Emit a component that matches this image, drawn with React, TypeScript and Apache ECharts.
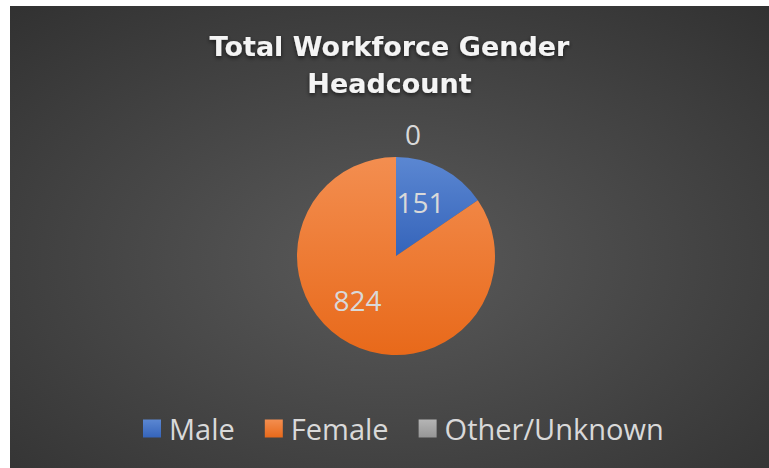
import React, { useEffect, useRef } from "react";
import * as echarts from "echarts";

const titleLines = ["Total Workforce Gender", "Headcount"];
const categories = ["Male", "Female", "Other/Unknown"];
const values = [151, 824, 0];

const palette = [
  ["#5b87d2", "#3564ba"],
  ["#f38e50", "#e8691a"],
  ["#b5b5b5", "#969696"],
];
const labelOffsets = [
  [0, -8],
  [-14, -2],
  [17, -70],
];

export default function App() {
  const ref = useRef<HTMLDivElement>(null);
  useEffect(() => {
    if (!ref.current) return;
    const chart = echarts.init(ref.current, undefined, { renderer: "svg" });
    const font = "'Open Sans', 'Noto Sans', sans-serif";
    chart.setOption({
      animation: false,
      backgroundColor: new echarts.graphic.RadialGradient(0.5, 0.55, 0.95, [
        { offset: 0, color: "#5a5a5a" },
        { offset: 1, color: "#262626" },
      ]),
      title: {
        text: titleLines.join("\n"),
        left: "center",
        top: 17,
        textStyle: {
          fontFamily: "'DejaVu Sans', sans-serif",
          fontWeight: "bold",
          fontSize: 27,
          lineHeight: 37,
          color: "#f4f4f4",
          textShadowColor: "rgba(0,0,0,0.6)",
          textShadowBlur: 4,
          textShadowOffsetY: 2,
        },
      },
      legend: {
        data: categories,
        bottom: 20,
        left: 128,
        icon: "rect",
        itemWidth: 18,
        itemHeight: 18,
        itemGap: 30,
        textStyle: {
          fontFamily: font,
          fontSize: 29,
          color: "#d9d9d9",
          padding: [0, 0, 0, 3],
        },
      },
      series: [
        {
          type: "pie",
          center: [386, 250],
          radius: 99,
          startAngle: 90,
          clockwise: true,
          avoidLabelOverlap: false,
          label: {
            show: true,
            position: "inside",
            formatter: "{c}",
            fontFamily: font,
            fontSize: 28,
            color: "#d9d9d9",
          },
          labelLine: { show: false },
          emphasis: { disabled: true },
          data: categories.map((name, i) => ({
            name,
            value: values[i],
            itemStyle: {
              color: new echarts.graphic.LinearGradient(0, 0, 0, 1, [
                { offset: 0, color: palette[i][0] },
                { offset: 1, color: palette[i][1] },
              ]),
            },
            label: { offset: labelOffsets[i] },
          })),
        },
      ],
    });
    return () => chart.dispose();
  }, []);
  return (
    <div
      ref={ref}
      style={{ position: "absolute", left: 10, top: 6, width: 759, height: 462 }}
    />
  );
}
